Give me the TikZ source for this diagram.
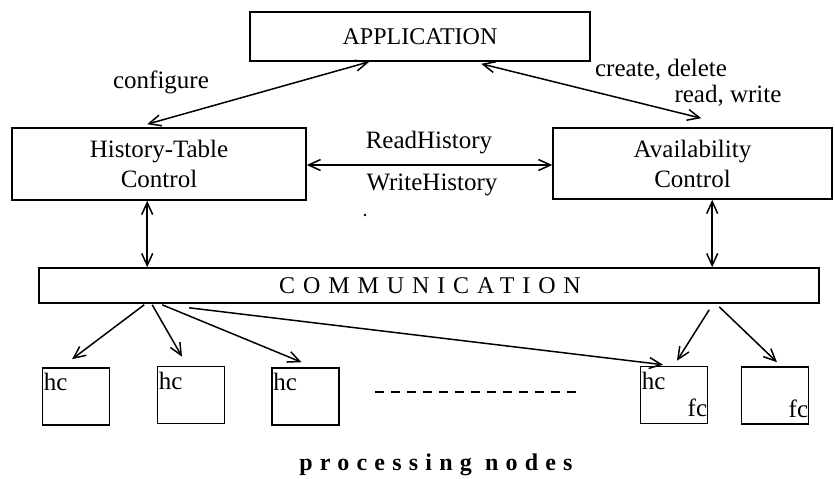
\documentclass[tikz,border=0pt]{standalone}
\usepackage{fontspec}
\setmainfont{Liberation Serif}
\usetikzlibrary{arrows.meta,calc}

\tikzset{
  x=1pt, y=-1pt,
  every node/.style={font=\fontsize{24}{28}\selectfont, inner sep=0pt},
  box/.style={draw, line width=1.6pt, rectangle},
  pnode/.style={box, minimum width=67pt, minimum height=57pt},
  tip/.style={Straight Barb[length=12pt,width=11pt,line width=1.5pt]},
  link/.style={line width=1.5pt, -{Straight Barb[length=12pt,width=11pt,line width=1.5pt]}},
  dlink/.style={line width=1.5pt, {Straight Barb[length=12pt,width=11pt,line width=1.5pt]}-{Straight Barb[length=12pt,width=11pt,line width=1.5pt]}},
  lbl/.style={font=\fontsize{25}{28}\selectfont},
  tag/.style={font=\fontsize{25}{28}\selectfont},
  spaced/.style={font=\fontsize{24}{28}\selectfont\addfontfeature{LetterSpace=#1}}
}

\begin{document}
\begin{tikzpicture}
  \useasboundingbox (0,0) rectangle (835,479);

  % main boxes
  \node[box, minimum width=340pt, minimum height=49pt] (app) at (420,36.5) {APPLICATION};
  \node[box, minimum width=294pt, minimum height=72pt, align=center, font=\fontsize{25}{28}\selectfont] (htc) at (159,164)
       {History-Table\\[2pt]Control};
  \node[box, minimum width=279pt, minimum height=71pt, align=center, font=\fontsize{25}{28}\selectfont] (avc) at (692.5,163.5)
       {Availability\\[2pt]Control};
  \node[box, minimum width=780pt, minimum height=35pt] (comm) at (429,285.5) {};
  \node[spaced=33] (commtext) at (430,286) {COMMUNICATION};

  % processing nodes
  \node[pnode] (b1) at (76,396.5) {};
  \node[pnode] (b2) at (191,395) {};
  \node[pnode] (b3) at (305.5,396.5) {};
  \node[pnode] (b4) at (674,395) {};
  \node[pnode] (b5) at (775,395.5) {};

  \node[tag, anchor=north west] (hc1) at ($(b1.north west)+(2,6)$) {hc};
  \node[tag, anchor=north west] (hc2) at ($(b2.north west)+(2,6)$) {hc};
  \node[tag, anchor=north west] (hc3) at ($(b3.north west)+(2,6)$) {hc};
  \node[tag, anchor=north west] (hc4) at ($(b4.north west)+(2,6)$) {hc};
  \node[tag, anchor=south east] (fc4) at ($(b4.south east)+(-1,-7)$) {fc};
  \node[tag, anchor=south east] (fc5) at ($(b5.south east)+(-1,-7)$) {fc};

  \coordinate (dl) at (375,392);
  \coordinate (dr) at (583,392);
  \draw[line width=1.4pt, dash pattern=on 9pt off 7pt] (dl) -- (dr);

  \node[font=\fontsize{24}{28}\selectfont\bfseries\addfontfeature{LetterSpace=30}] (proc) at (436,465) {processing nodes};

  % labels
  \node[lbl] (cfg) at (161,82) {configure};
  \node[lbl] (cd) at (661,70) {create, delete};
  \node[lbl] (rw) at (728,96) {read, write};
  \node[lbl] (rh) at (429,143) {ReadHistory};
  \node[lbl] (wh) at (432,185) {WriteHistory};
  \fill (365,215) circle (1.3pt);

  % connectors
  \draw[dlink] ($(app.south west)+(120,0)$) -- ($(htc.north west)+(136,-3)$);
  \draw[dlink] ($(app.south west)+(232,2)$) -- ($(avc.north west)+(149,-9)$);
  \draw[dlink] (htc.east |- 0,165) -- (avc.west |- 0,165);
  \draw[dlink] ($(htc.south west)+(136,0)$) -- ($(comm.north west)+(109,0)$);
  \draw[dlink] ($(avc.south west)+(160,0)$) -- ($(comm.north west)+(674,0)$);

  \draw[link] ($(comm.south west)+(106,1)$) -- ($(b1.north)+(-4,-8)$);
  \draw[link] ($(comm.south west)+(114,1)$) -- ($(b2.north)+(-9,-9)$);
  \draw[link] ($(comm.south west)+(124,1)$) -- ($(b3.north)+(-4,-5)$);
  \draw[link] ($(comm.south west)+(151,4)$) -- ($(b4.north)+(-11,-1)$);
  \draw[link] ($(comm.south west)+(671,6)$) -- ($(b4.north)+(3,-5)$);
  \draw[link] ($(comm.south west)+(681,3)$) -- ($(b5.north)+(2,-4)$);
\end{tikzpicture}
\end{document}
